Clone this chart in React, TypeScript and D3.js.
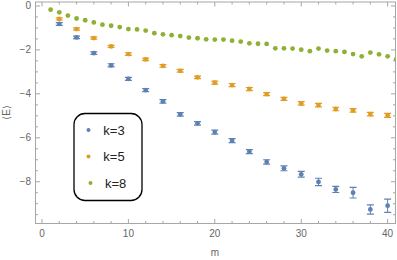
import * as React from "react";
import * as d3 from "d3";

// m positions
const mAll = [1, 2, 3, 4, 5, 6, 7, 8, 9, 10, 11, 12, 13, 14, 15, 16, 17, 18, 19, 20, 21, 22, 23, 24, 25, 26, 27, 28, 29, 30, 31, 32, 33, 34, 35, 36, 37, 38, 39, 40, 41];
const mEven = [2, 4, 6, 8, 10, 12, 14, 16, 18, 20, 22, 24, 26, 28, 30, 32, 34, 36, 38, 40];

// <E> for k=3 (blue), with error
const k3 = [-0.82, -1.43, -2.15, -2.7, -3.32, -3.83, -4.34, -4.93, -5.34, -5.74, -6.13, -6.63, -7.1, -7.39, -7.66, -8.01, -8.35, -8.5, -9.26, -9.09];
const k3err = [0.06, 0.06, 0.06, 0.07, 0.07, 0.07, 0.08, 0.08, 0.08, 0.09, 0.09, 0.09, 0.1, 0.11, 0.13, 0.17, 0.14, 0.24, 0.21, 0.3];

// k=5 (orange)
const k5 = [-0.59, -1.05, -1.46, -1.84, -2.19, -2.43, -2.73, -2.95, -3.25, -3.49, -3.6, -3.78, -4.01, -4.23, -4.43, -4.51, -4.69, -4.75, -4.92, -4.98];
const k5err = [0.05, 0.05, 0.05, 0.05, 0.06, 0.06, 0.06, 0.06, 0.06, 0.07, 0.07, 0.07, 0.07, 0.07, 0.08, 0.08, 0.08, 0.08, 0.08, 0.09];

// k=8 (green)
const k8 = [-0.17, -0.29, -0.44, -0.57, -0.65, -0.75, -0.85, -0.9, -0.96, -1.05, -1.07, -1.12, -1.24, -1.29, -1.33, -1.37, -1.44, -1.47, -1.52, -1.53, -1.53, -1.58, -1.62, -1.7, -1.72, -1.73, -1.93, -1.93, -1.94, -1.99, -2.06, -1.94, -2.03, -2.06, -2.09, -2.19, -2.29, -2.12, -2.2, -2.29, -2.42];

const xTicks = [0, 10, 20, 30, 40];
const yTicks = [0, -2, -4, -6, -8];
const legendLabels = ["k=3", "k=5", "k=8"];
const colors = ["#5e81b5", "#e19c24", "#8fb032"];

const W = 397;
const H = 260;
const left = 35.5, right = 395.5, top = 2, bottom = 223.5;
const font = "'Liberation Sans', Arial, sans-serif";
const frameColor = "#a6a6a6";
const labelColor = "#666";

export default function App() {
  const x = d3.scaleLinear().domain([-0.75, 40.91]).range([left, right]);
  const y = d3.scaleLinear().domain([-9.9, 0.18]).range([bottom, top]);

  const xMinor = d3.range(0, 41, 2).filter((v) => v % 10 !== 0);
  const yMinor = d3.range(-9.5, 0.01, 0.5).filter((v) => v % 2 !== 0);

  const series = [
    { m: mEven, v: k3, e: k3err, c: colors[0] },
    { m: mEven, v: k5, e: k5err, c: colors[1] },
  ];

  return (
    <svg width={W} height={H} style={{ position: "fixed", left: 0, top: 0 }} fontFamily={font}>
      <defs>
        <clipPath id="plot">
          <rect x={left} y={top} width={right - left} height={bottom - top} />
        </clipPath>
      </defs>
      <rect width={W} height={H} fill="white" />

      {/* frame */}
      <rect x={left} y={top} width={right - left} height={bottom - top} fill="none" stroke={frameColor} strokeWidth={1} />
      {xTicks.map((t) => (
        <g key={"xt" + t} stroke={frameColor}>
          <line x1={x(t)} x2={x(t)} y1={bottom} y2={bottom - 4.5} />
          <line x1={x(t)} x2={x(t)} y1={top} y2={top + 4.5} />
        </g>
      ))}
      {xMinor.map((t) => (
        <g key={"xm" + t} stroke={frameColor}>
          <line x1={x(t)} x2={x(t)} y1={bottom} y2={bottom - 2.5} />
          <line x1={x(t)} x2={x(t)} y1={top} y2={top + 2.5} />
        </g>
      ))}
      {yTicks.map((t) => (
        <g key={"yt" + t} stroke={frameColor}>
          <line x1={left} x2={left + 4.5} y1={y(t)} y2={y(t)} />
          <line x1={right} x2={right - 4.5} y1={y(t)} y2={y(t)} />
        </g>
      ))}
      {yMinor.map((t) => (
        <g key={"ym" + t} stroke={frameColor}>
          <line x1={left} x2={left + 2.5} y1={y(t)} y2={y(t)} />
          <line x1={right} x2={right - 2.5} y1={y(t)} y2={y(t)} />
        </g>
      ))}

      {xTicks.map((t) => (
        <text key={"xl" + t} x={x(t)} y={237} textAnchor="middle" fontSize={10} fill={labelColor}>
          {t}
        </text>
      ))}
      {yTicks.map((t) => (
        <text key={"yl" + t} x={31} y={y(t) + 3.5} textAnchor="end" fontSize={10} fill={labelColor}>
          {t === 0 ? "0" : "\u2212" + Math.abs(t)}
        </text>
      ))}
      <text x={215} y={256} textAnchor="middle" fontSize={10} fill={labelColor}>m</text>
      <text transform="translate(9.5,112.5) rotate(-90)" textAnchor="middle" fontSize={10} fill={labelColor}>
        {"\u27E8E\u27E9"}
      </text>

      <g clipPath="url(#plot)">
        {k8.map((v, i) => (
          <circle key={"g" + i} cx={x(mAll[i])} cy={y(v)} r={2.4} fill={colors[2]} />
        ))}
        {series.map((s, si) => (
          <g key={"s" + si} stroke={s.c} fill={s.c}>
            {s.v.map((v, i) => {
              const cx = x(s.m[i]);
              const y1 = y(v + s.e[i]);
              const y2 = y(v - s.e[i]);
              return (
                <g key={i}>
                  <line x1={cx} x2={cx} y1={y1} y2={y2} strokeWidth={1} />
                  <line x1={cx - 3.5} x2={cx + 3.5} y1={y1} y2={y1} strokeWidth={1.2} />
                  <line x1={cx - 3.5} x2={cx + 3.5} y1={y2} y2={y2} strokeWidth={1.2} />
                  <circle cx={cx} cy={y(v)} r={2.4} stroke="none" />
                </g>
              );
            })}
          </g>
        ))}
      </g>

      {/* legend */}
      <rect x={74} y={113.5} width={68} height={87} rx={11} fill="white" stroke="black" strokeWidth={1.3} />
      {legendLabels.map((l, i) => (
        <g key={l}>
          <circle cx={i === 2 ? 90.5 : 88.5} cy={130 + i * 26.5} r={2} fill={colors[i]} />
          <text x={i === 2 ? 105 : 103.3} y={130 + i * 26.5 + 4.5} fontSize={13} fill="#222">
            {l}
          </text>
        </g>
      ))}
    </svg>
  );
}
